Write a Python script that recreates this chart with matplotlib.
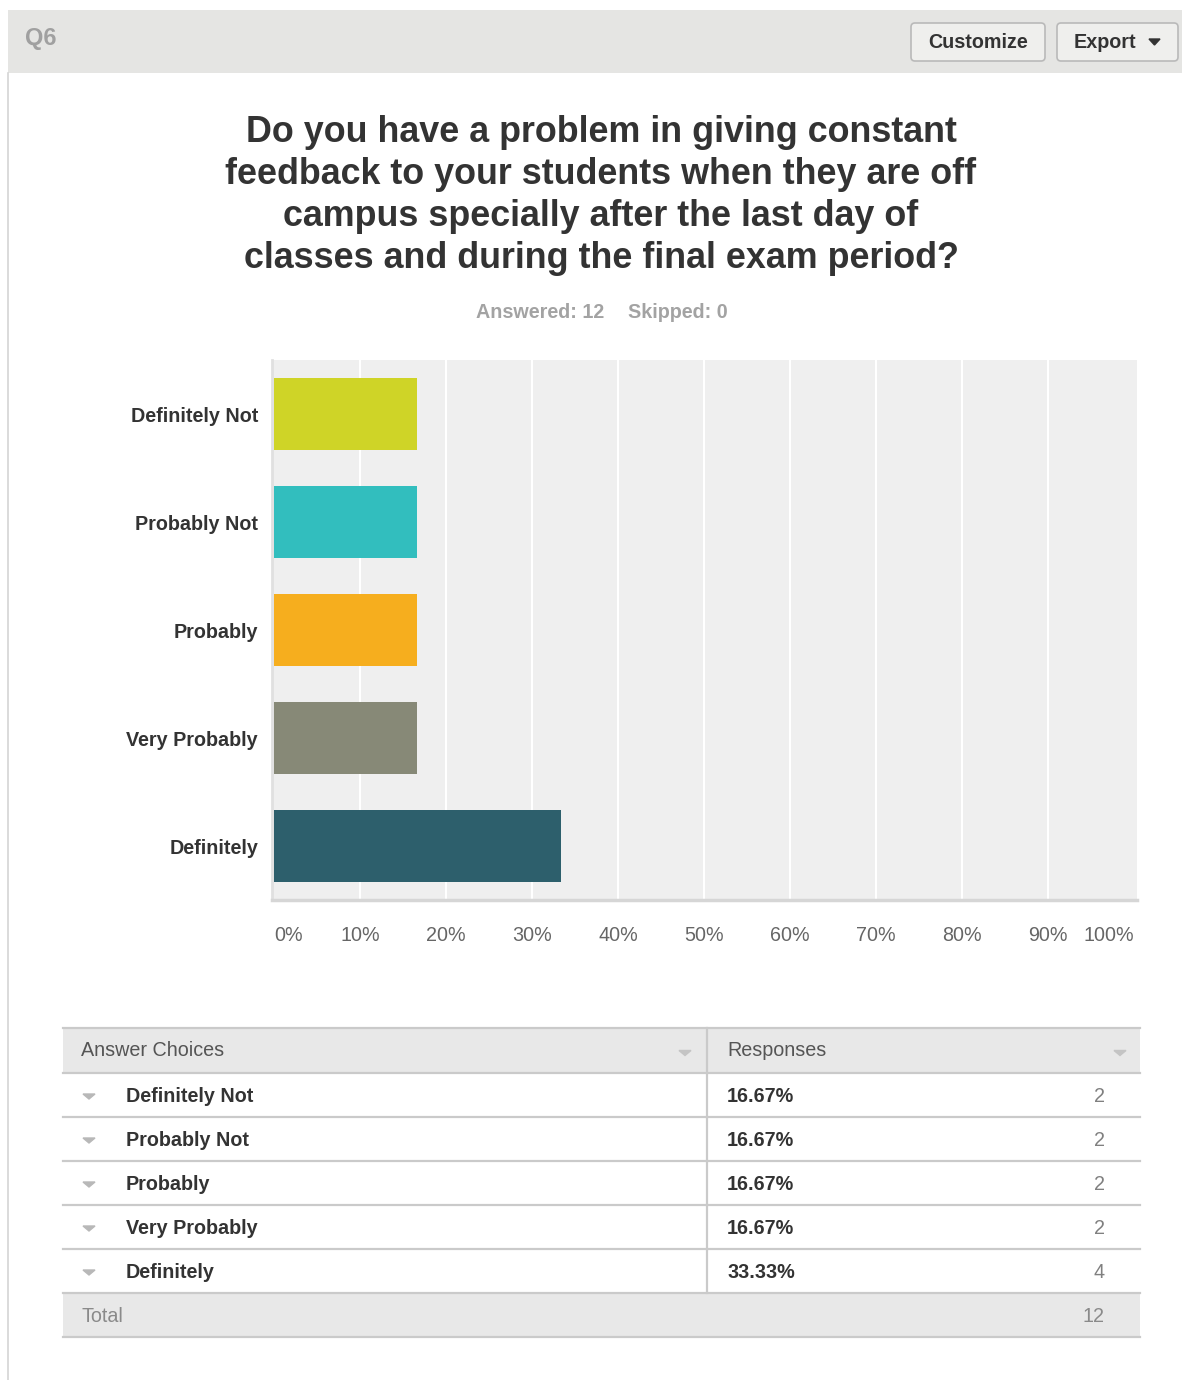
import numpy as np
import matplotlib.pyplot as plt
from matplotlib.patches import Rectangle, FancyBboxPatch

plt.rcParams['font.family'] = ['Liberation Sans', 'DejaVu Sans']

# survey results
choices = ['Definitely Not', 'Probably Not', 'Probably', 'Very Probably', 'Definitely']
counts = np.array([2, 2, 2, 2, 4])
colors = ['#cfd427', '#32bebe', '#f6ae1e', '#878977', '#2d5f6c']
skipped = 0
question = ['Do you have a problem in giving constant',
            'feedback to your students when they are off',
            'campus specially after the last day of',
            'classes and during the final exam period?']

total = counts.sum()
percent = counts / total * 100

W, H = 1182, 1380
fs = 14.2
fig = plt.figure(figsize=(W / 100, H / 100), dpi=100)

# page layer in pixel coordinates
pg = fig.add_axes([0, 0, 1, 1])
pg.set_xlim(0, W)
pg.set_ylim(H, 0)
pg.axis('off')

# header band with buttons
pg.add_patch(Rectangle((8, 10), W - 8, 63, fc='#e5e5e3', ec='none'))
pg.plot([8, 8], [73, H], color='#d4d4d4', lw=1.2)
pg.text(25, 39, 'Q6', fontsize=17, color='#a0a0a0', fontweight='bold', va='center')
for x0, w, label in [(911, 134, 'Customize'), (1057, 121, 'Export')]:
    pg.add_patch(FancyBboxPatch((x0, 23), w, 38, boxstyle='round,pad=0,rounding_size=4',
                                fc='#efefed', ec='#b9b9b9', lw=1.2))
pg.text(978, 43, 'Customize', fontsize=14.2, fontweight='bold', color='#333333', ha='center', va='center')
pg.text(1074, 43, 'Export', fontsize=14.2, fontweight='bold', color='#333333', ha='left', va='center')
pg.fill([1149, 1160, 1154.5], [39, 39, 45], color='#333333')

# question title
for i, line in enumerate(question):
    pg.text(601, 133 + i * 42, line, fontsize=25.8, fontweight='bold', color='#333333',
            ha='center', va='center')
pg.text(604, 312, f'Answered: {total}', fontsize=fs, fontweight='bold', color='#a3a3a3',
        ha='right', va='center')
pg.text(628, 312, f'Skipped: {skipped}', fontsize=fs, fontweight='bold', color='#a3a3a3',
        ha='left', va='center')

# bar chart
ax = fig.add_axes([272 / W, 1 - 900 / H, 865 / W, 540 / H])
ax.set_facecolor('#efefef')
y = np.arange(len(choices))
ax.barh(y, percent, height=0.667, color=colors, zorder=3)
ax.set_xlim(-2 / 8.6, 100 + 3 / 8.6)
ax.set_ylim(len(choices) - 0.5, -0.5)
ax.set_xticks(np.arange(0, 101, 10))
ax.set_xticklabels([f'{t}%' for t in range(0, 101, 10)])
labs = ax.get_xticklabels()
labs[0].set_ha('left')
labs[-1].set_ha('right')
for t in range(10, 100, 10):
    ax.axvline(t, color='white', lw=1.5, zorder=1)
ax.set_yticks(y)
ax.set_yticklabels(choices, fontweight='bold', fontsize=fs, color='#333333')
ax.tick_params(axis='x', length=0, pad=19, labelsize=fs, labelcolor='#666666')
ax.tick_params(axis='y', length=0, pad=10)
for s in ['top', 'right']:
    ax.spines[s].set_visible(False)
ax.spines['bottom'].set_color('#d6d6d6')
ax.spines['bottom'].set_linewidth(2.5)
ax.spines['left'].set_color('#e0e0e0')
ax.spines['left'].set_linewidth(2)

# responses table
tx0, tx1, split = 63, 1140, 707
top, head_h, row_h = 1028, 45, 44
line_c = '#cacaca'
pg.add_patch(Rectangle((tx0, top), tx1 - tx0, head_h, fc='#e8e8e8', ec='none'))
tot_top = top + head_h + row_h * len(choices)
pg.add_patch(Rectangle((tx0, tot_top), tx1 - tx0, row_h, fc='#e8e8e8', ec='none'))
for yy in [top] + [top + head_h + row_h * i for i in range(len(choices) + 1)] + [tot_top + row_h]:
    pg.plot([tx0, tx1], [yy, yy], color=line_c, lw=1.6)
pg.plot([split, split], [top, tot_top], color=line_c, lw=1.6)

hy = top + head_h / 2
pg.text(81, hy, 'Answer Choices', fontsize=fs, color='#555555', va='center')
pg.text(727, hy, 'Responses', fontsize=fs, color='#555555', va='center')
for xt in [685, 1120]:
    pg.fill([xt - 6, xt + 6, xt], [hy, hy, hy + 5], color='#c4c4c4')

for i, (name, p, c) in enumerate(zip(choices, percent, counts)):
    ry = top + head_h + row_h * i + row_h / 2
    pg.fill([83, 95, 89], [ry - 1, ry - 1, ry + 4], color='#b8b8b8')
    pg.text(126, ry + 1, name, fontsize=fs, fontweight='bold', color='#333333', va='center')
    pg.text(727, ry + 1, f'{p:.2f}%', fontsize=fs, fontweight='bold', color='#333333', va='center')
    pg.text(1105, ry + 1, str(c), fontsize=fs, color='#808080', va='center', ha='right')

ty = tot_top + row_h / 2
pg.text(81, ty + 1, 'Total', fontsize=fs, color='#8a8a8a', va='center')
pg.text(1105, ty + 1, str(total), fontsize=fs, color='#8a8a8a', va='center', ha='right')

fig.savefig('out.png', dpi=100, facecolor='white')
